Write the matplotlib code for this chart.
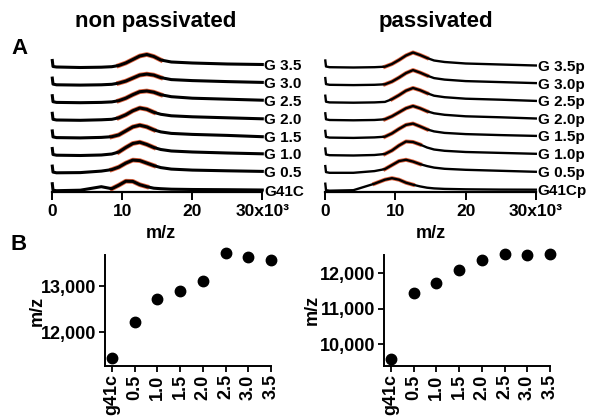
import matplotlib
matplotlib.use("Agg")
import matplotlib.pyplot as plt

plt.rcParams["font.family"] = ["Liberation Sans", "DejaVu Sans"]
plt.rcParams["font.weight"] = "bold"

W, H = 590, 417

# ---- panel A: spectra, heights in px above each trace's own baseline ----
mz = [0, 0.1, 0.6, 4, 7, 8.5, 9.5, 10.5, 11.5, 12.5, 13.5, 14.5, 15.5, 17, 20, 25, 30]

# listed top to bottom
np_labels = ["G 3.5", "G 3.0", "G 2.5", "G 2.0", "G 1.5", "G 1.0", "G 0.5", "G41C"]
np_traces = [
    [7, 1, 0.5, 0, 0.3, 0.8, 2, 4.5, 8, 11.5, 13, 11, 7.5, 5.5, 4.5, 3.5, 3],
    [7, 1, 0.3, 0, 0.3, 0.8, 2, 4, 7, 10, 11, 10, 7.5, 5.5, 4.5, 3.5, 2.7],
    [7, 1, 0.3, 0, 0.3, 0.8, 2, 4.5, 8, 11, 11.7, 10.5, 8, 6, 4.5, 3.5, 2.5],
    [7, 1, 0.3, 0, 0.5, 1, 2.5, 5.5, 9.5, 12.3, 11, 8, 6, 4.5, 3.5, 2.5, 1.5],
    [7, 1, 0.3, 0, 0.5, 1.2, 3, 7, 11, 12.7, 11, 8, 6, 4.5, 3.5, 2.5, 1.2],
    [7, 1, 0.3, 0, 0.5, 1.5, 3.5, 8, 12, 13.3, 11, 8, 6, 4.5, 3.5, 2.5, 1.7],
    [7, 1, 0.3, 0.5, 2, 3.5, 6, 10, 13, 12.5, 10, 7.5, 5.5, 4, 3, 2.3, 1.7],
    [7, 0.5, 0, 0.5, 4, 2, 5.5, 9.5, 9.3, 6, 4, 2.5, 2, 1.5, 1.2, 1, 0.7],
]
np_fit = [(9.5, 15.5), (9.5, 15.5), (9.5, 15.5), (9, 14.5), (8.5, 14.5), (9, 14.5), (8.5, 14.5), (8.5, 14)]

p_labels = ["G 3.5p", "G 3.0p", "G 2.5p", "G 2.0p", "G 1.5p", "G 1.0p", "G 0.5p", "G41Cp"]
p_traces = [
    [7, 1, 0.3, 0, 0.3, 0.8, 3.5, 7.5, 12, 15, 12.5, 9.5, 7, 5.5, 4, 3, 2],
    [7, 1, 0.3, 0, 0.3, 0.8, 3.5, 7.5, 12, 15, 12.5, 9.5, 7, 5.5, 4, 3, 2],
    [7, 1, 0.3, 0, 0.3, 0.8, 3.5, 7.5, 12, 14.7, 12.5, 9.5, 7, 5.5, 4, 3, 1.8],
    [7, 1, 0.3, 0, 0.3, 1, 4, 8, 12, 14.3, 12, 9, 7, 5.5, 4, 3, 1.8],
    [7, 1, 0.3, 0, 0.5, 1.2, 4.5, 9, 13, 14.3, 11.5, 8.5, 6.5, 5, 3.8, 2.8, 2],
    [7, 1, 0.3, 0, 0.5, 1.5, 5, 10, 14, 13.5, 11, 8, 6, 4.7, 3.5, 2.6, 1.7],
    [7, 1, 0.3, 0.3, 2, 4, 8, 12, 13.3, 11.5, 9, 7, 5.5, 4.3, 3.3, 2.3, 1.3],
    [7, 0.5, 0, 0.5, 7, 11, 12.5, 11, 8, 6, 4.3, 3, 2.3, 1.8, 1.4, 1.1, 1],
]
p_fit = [(8.5, 15), (8.5, 15), (9, 14.5), (8.5, 14.5), (8.5, 14.5), (8.5, 14), (8, 13.5), (7, 13)]

mz_ticks = [0, 10, 20, 30]
mz_ticklabels = ["0", "10", "20", "30x10³"]

# ---- panel B: peak positions ----
b_cats = ["g41c", "0.5", "1.0", "1.5", "2.0", "2.5", "3.0", "3.5"]
np_peak = [11430, 12225, 12715, 12890, 13115, 13710, 13625, 13565]
p_peak = [9570, 11430, 11730, 12095, 12375, 12535, 12505, 12535]

RED = "#e2643f"


def box(l, t, r, b):
    return [l / W, 1 - b / H, (r - l) / W, (b - t) / H]


fig = plt.figure(figsize=(W / 100, H / 100), dpi=100)


def spectra(rect, traces, fits, labels, lw):
    ax = fig.add_axes(rect)
    ax.set_xlim(0, 30)
    ax.set_ylim(0, 152)
    for s in ["top", "right", "left"]:
        ax.spines[s].set_visible(False)
    ax.spines["bottom"].set_linewidth(1.6)
    ax.set_yticks([])
    ax.set_xticks(mz_ticks)
    ax.set_xticklabels(mz_ticklabels, fontsize=12.5, fontweight="bold")
    ax.tick_params(axis="x", length=6, width=1.4, pad=3)
    n = len(traces)
    for i, (vals, (f0, f1), lab) in enumerate(zip(traces, fits, labels)):
        off = 1.3 + (n - 1 - i) * 17.6
        y = [v + off for v in vals]
        fx = [m for m in mz if f0 <= m <= f1]
        fy = [yy for m, yy in zip(mz, y) if f0 <= m <= f1]
        ax.plot(fx, fy, color=RED, lw=lw + 1.2, clip_on=False, zorder=2)
        ax.plot(mz, y, color="black", lw=lw, clip_on=False, zorder=3)
        ax.text(30.25, y[-1] - 1.5, lab, fontsize=11, fontweight="bold",
                ha="left", va="center")
    return ax


spectra(box(52.3, 40, 262.3, 192), np_traces, np_fit, np_labels, 2.2)
spectra(box(325.3, 40, 535.8, 192), p_traces, p_fit, p_labels, 1.7)


def peaks(rect, vals, ylim, yticks):
    ax = fig.add_axes(rect)
    ax.plot(range(len(vals)), vals, "o", color="black", ms=7.5, clip_on=False)
    ax.set_xlim(-0.3, len(vals) - 1)
    ax.set_ylim(*ylim)
    ax.spines["top"].set_visible(False)
    ax.spines["right"].set_visible(False)
    ax.spines["left"].set_linewidth(1.4)
    ax.spines["bottom"].set_linewidth(1.4)
    ax.set_yticks(yticks)
    ax.set_yticklabels([f"{t:,}" for t in yticks], fontsize=13, fontweight="bold")
    ax.set_xticks(range(len(b_cats)))
    ax.set_xticklabels(b_cats, rotation=90, fontsize=13, fontweight="bold")
    ax.tick_params(length=4, width=1.3, pad=2)
    return ax


peaks(box(105, 255, 271, 366), np_peak, (11261, 13674), [12000, 13000])
peaks(box(384, 255, 550, 366), p_peak, (9380, 12510), [10000, 11000, 12000])

# text
fig.text(156 / W, 1 - 22 / H, "non passivated", fontsize=16, fontweight="bold", ha="center", va="center")
fig.text(436 / W, 1 - 22 / H, "passivated", fontsize=16, fontweight="bold", ha="center", va="center")
fig.text(20 / W, 1 - 48 / H, "A", fontsize=16, fontweight="bold", ha="center", va="center")
fig.text(19 / W, 1 - 245 / H, "B", fontsize=16, fontweight="bold", ha="center", va="center")
fig.text(161 / W, 1 - 233 / H, "m/z", fontsize=13, fontweight="bold", ha="center", va="center")
fig.text(431 / W, 1 - 233 / H, "m/z", fontsize=13, fontweight="bold", ha="center", va="center")
fig.text(37 / W, 1 - 311 / H, "m/z", fontsize=13, fontweight="bold", ha="center", va="center", rotation=90)
fig.text(312 / W, 1 - 310 / H, "m/z", fontsize=13, fontweight="bold", ha="center", va="center", rotation=90)

fig.savefig("out.png", dpi=100)
